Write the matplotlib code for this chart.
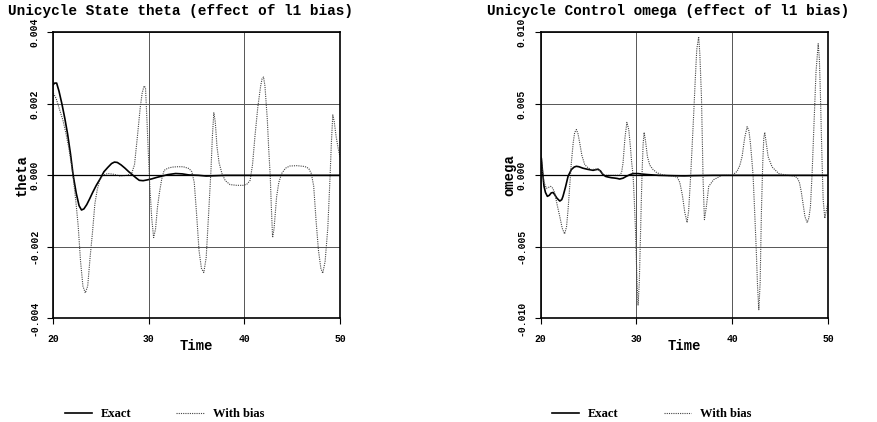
import numpy as np
import matplotlib.pyplot as plt

# Datos - theta (Unicycle State)
t_theta_exact = [20.0, 20.15, 20.35, 20.6, 20.9, 21.2, 21.5, 21.8, 22.08, 22.4, 22.7, 22.95, 23.2,
                 23.5, 23.8, 24.1, 24.5, 24.9, 25.3, 25.7, 26.1, 26.4, 26.7, 27.1, 27.5, 27.9,
                 28.3, 28.7, 29.0, 29.4, 29.8, 30.3, 30.8, 31.4, 32.0, 32.8, 33.5, 34.2, 35.2,
                 36.0, 37.0, 38.0, 40.0, 45.0, 50.0]
theta_exact = [0.00254, 0.00258, 0.00258, 0.00235, 0.0020, 0.0016, 0.00115, 0.0006, 0.0, -0.0005,
               -0.00085, -0.00097, -0.00094, -0.00082, -0.00066, -0.00049, -0.00028, -0.0001,
               0.0001, 0.00022, 0.00033, 0.00037, 0.00036, 0.00029, 0.0002, 0.0001, 0.00001,
               -0.00008, -0.00014, -0.00015, -0.00013, -0.0001, -0.00006, -0.00002, 0.00002,
               0.00005, 0.00004, 0.00001, 0.0, -0.00002, -0.00001, 0.0, 0.0, 0.0, 0.0]

t_theta_bias = [20.0, 20.3, 20.7, 21.0, 21.3, 21.6, 21.9, 22.1, 22.35, 22.6, 22.85, 23.1, 23.35,
                23.6, 23.85, 24.1, 24.35, 24.6, 24.85, 25.2, 25.7, 26.3, 27.0, 27.7, 28.2, 28.5,
                28.8, 29.1, 29.3, 29.5, 29.65, 29.8, 29.95, 30.1, 30.3, 30.5, 30.7, 30.9, 31.1,
                31.35, 31.6, 32.0, 32.45, 33.0, 33.6, 34.2, 34.5, 34.75, 35.0, 35.25, 35.5,
                35.75, 36.0, 36.27, 36.5, 36.65, 36.8, 36.95, 37.13, 37.35, 37.65, 38.0, 38.5,
                39.2, 39.9, 40.3, 40.6, 40.85, 41.1, 41.4, 41.7, 41.85, 42.0, 42.15, 42.4,
                42.55, 42.7, 42.82, 42.95, 43.1, 43.37, 43.6, 43.9, 44.3, 44.75, 45.5, 46.2,
                46.5, 46.75, 47.0, 47.25, 47.5, 47.75, 48.0, 48.2, 48.45, 48.73, 48.97, 49.1,
                49.25, 49.4, 49.6, 49.85, 50.0]
theta_bias = [0.0023, 0.00215, 0.0018, 0.00155, 0.0012, 0.0008, 0.0003, -0.0001, -0.0007, -0.0014,
              -0.0024, -0.0031, -0.00329, -0.0031, -0.0023, -0.0016, -0.0008, -0.0004, -0.00014,
              0.0, 0.00005, 0.00003, -0.00002, 0.0, 0.00005, 0.0003, 0.00108, 0.0019, 0.0023,
              0.0025, 0.00245, 0.00155, 0.0006, -0.0003, -0.0012, -0.00174, -0.0015, -0.0009,
              -0.0005, -0.0001, 0.00014, 0.0002, 0.00023, 0.00024, 0.00024, 0.00019, 0.0001,
              -0.0002, -0.0011, -0.0021, -0.0026, -0.00272, -0.0023, -0.001, 0.00014, 0.0011,
              0.00175, 0.0015, 0.0008, 0.00035, 0.00005, -0.00015, -0.00026, -0.00028, -0.00028,
              -0.00024, -0.00014, 0.0003, 0.00108, 0.0019, 0.0025, 0.0027, 0.00275, 0.0025,
              0.00155, 0.0007, 0.0, -0.0009, -0.00174, -0.0015, -0.0006, -0.0002, 0.00005,
              0.0002, 0.00026, 0.00027, 0.00025, 0.00023, 0.00018, 0.00005, -0.0003, -0.00127,
              -0.0021, -0.0026, -0.00274, -0.0024, -0.00146, 0.0, 0.0009, 0.00169, 0.0015,
              0.00108, 0.0007, 0.00052]

# Datos - omega (Unicycle Control)
t_omega_exact = [20.0, 20.07, 20.2, 20.35, 20.5, 20.7, 20.9, 21.1, 21.3, 21.46, 21.7, 22.0, 22.2,
                 22.33, 22.6, 22.86, 23.2, 23.5, 23.73, 24.0, 24.4, 24.9, 25.47, 25.8, 26.0, 26.25,
                 26.5, 26.8, 27.04, 27.4, 27.7, 28.0, 28.25, 28.6, 28.95, 29.3, 29.65, 30.17,
                 30.7, 31.2, 32.3, 34.0, 35.0, 36.0, 38.0, 40.0, 45.0, 50.0]
omega_exact = [0.0012, 0.0012, 0.0002, -0.00077, -0.0012, -0.00147, -0.0014, -0.00123, -0.0012,
               -0.00135, -0.0016, -0.0018, -0.0017, -0.00147, -0.0008, -0.00007, 0.0004, 0.00058,
               0.00063, 0.0006, 0.0005, 0.00042, 0.00035, 0.0004, 0.00042, 0.0003, 0.00005,
               -0.00008, -0.00012, -0.00017, -0.00019, -0.00022, -0.00026, -0.0002, -0.00007,
               0.00004, 0.00012, 0.00012, 0.00008, 0.00005, 0.0, -0.00003, -0.00004, -0.00002,
               0.0, 0.0, 0.0, 0.0]

t_omega_bias = [20.0, 20.07, 20.2, 20.35, 20.6, 20.8, 21.05, 21.25, 21.46, 21.7, 22.0, 22.25,
                22.5, 22.7, 22.86, 23.05, 23.2, 23.4, 23.55, 23.73, 23.9, 24.08, 24.3, 24.6,
                25.0, 25.3, 25.6, 26.0, 26.35, 26.7, 27.5, 28.25, 28.45, 28.6, 28.8, 29.0, 29.2,
                29.37, 29.5, 29.65, 29.78, 29.9, 30.05, 30.17, 30.3, 30.42, 30.52, 30.6, 30.7,
                30.8, 30.95, 31.15, 31.4, 31.74, 32.1, 32.6, 33.3, 34.0, 34.3, 34.53, 34.8,
                35.05, 35.29, 35.45, 35.64, 35.8, 35.98, 36.15, 36.3, 36.5, 36.62, 36.79, 36.88,
                36.96, 37.1, 37.3, 37.55, 38.07, 38.94, 40.0, 40.51, 40.8, 41.03, 41.3, 41.56,
                41.75, 41.9, 42.05, 42.18, 42.35, 42.5, 42.65, 42.78, 42.92, 43.05, 43.19, 43.3,
                43.4, 43.55, 43.75, 44.17, 44.87, 45.8, 46.6, 46.85, 47.02, 47.2, 47.38, 47.6,
                47.83, 48.0, 48.17, 48.35, 48.52, 48.75, 48.98, 49.1, 49.22, 49.3, 49.39, 49.5,
                49.67, 49.85, 50.0]
omega_bias = [0.0012, 0.0012, 0.0003, -0.0005, -0.0009, -0.00085, -0.00077, -0.0009, -0.0012,
              -0.002, -0.0029, -0.0037, -0.0041, -0.0036, -0.0024, -0.0006, 0.00086, 0.0023,
              0.003, 0.0032, 0.0029, 0.00226, 0.0014, 0.00074, 0.0005, 0.0004, 0.00042, 0.00044,
              0.0002, 0.0, 0.0, 0.0, 0.0002, 0.00086, 0.0026, 0.0037, 0.0032, 0.002, 0.0009,
              0.0, -0.0018, -0.0038, -0.0072, -0.0091, -0.0075, -0.0043, -0.0015, 0.0004,
              0.0022, 0.003, 0.0024, 0.0013, 0.0007, 0.0004, 0.0002, 0.00005, -0.00003,
              -0.00007, -0.00018, -0.0005, -0.0014, -0.0026, -0.0033, -0.0025, -0.0003, 0.0018,
              0.0043, 0.0068, 0.0088, 0.0097, 0.0085, 0.0055, 0.0025, -0.0003, -0.0031,
              -0.0022, -0.00077, -0.0003, 0.0, 0.0, 0.00028, 0.0007, 0.0013, 0.0026, 0.0034,
              0.0031, 0.00226, 0.0011, 0.0, -0.0026, -0.005, -0.0078, -0.0094, -0.0075, -0.0026,
              0.00086, 0.0026, 0.003, 0.0023, 0.0013, 0.00058, 0.00012, 0.0, -0.00007,
              -0.00025, -0.0005, -0.0011, -0.0019, -0.0029, -0.0033, -0.003, -0.0022, 0.0002,
              0.0032, 0.0072, 0.0092, 0.0082, 0.0055, 0.0032, 0.00086, -0.0017, -0.003,
              -0.0024, -0.0019]

titles = ['Unicycle State theta (effect of l1 bias)',
          'Unicycle Control omega (effect of l1 bias)']
ylabels = ['theta', 'omega']
yticks_list = [[-0.004, -0.002, 0.0, 0.002, 0.004], [-0.010, -0.005, 0.0, 0.005, 0.010]]
xticks = [20, 30, 40, 50]

mono = 'Liberation Mono'

fig = plt.figure(figsize=(8.78, 4.22), dpi=100)
ax1 = fig.add_axes([0.0607, 0.2457, 0.3265, 0.6777])
ax2 = fig.add_axes([0.6158, 0.2457, 0.3272, 0.6777])

series = [(t_theta_exact, theta_exact, t_theta_bias, theta_bias),
          (t_omega_exact, omega_exact, t_omega_bias, omega_bias)]
title_x = [8 / 878, 487 / 878]

for i, ax in enumerate([ax1, ax2]):
    te, ye, tb, yb = series[i]
    yt = yticks_list[i]
    ax.plot(te, ye, color='black', lw=1.2, label='Exact')
    ax.plot(tb, yb, color='#444444', lw=0.8, ls=(0, (1, 1)), label='With bias')
    ax.set_xlim(20, 50)
    ax.set_ylim(yt[0], yt[-1])
    ax.set_xticks(xticks)
    ax.set_yticks(yt)
    ax.set_xticklabels([str(x) for x in xticks], fontfamily=mono, fontweight='bold', fontsize=7)
    ax.set_yticklabels(['%.3f' % v for v in yt], fontfamily=mono, fontweight='bold', fontsize=7,
                       rotation=90, va='center')
    ax.tick_params(axis='y', direction='out', length=4, width=0.8, pad=6)
    ax.tick_params(axis='x', direction='out', length=4, width=0.8, pad=7)
    ax.grid(True, color='#555555', lw=0.7)
    ax.axhline(0, color='black', lw=0.9)
    for s in ax.spines.values():
        s.set_linewidth(1.2)
    ax.set_xlabel('Time', fontfamily=mono, fontweight='bold', fontsize=10, labelpad=-3.5)
    ax.set_ylabel(ylabels[i], fontfamily=mono, fontweight='bold', fontsize=10, va='center')
    ax.yaxis.set_label_coords(-0.108, 0.5)
    fig.text(title_x[i], 0.99, titles[i], fontfamily=mono, fontweight='bold', fontsize=10.4,
             ha='left', va='top')
    ax.legend(loc='upper left', bbox_to_anchor=(0.0, -0.275), ncol=2, frameon=False,
              handlelength=2.2, handletextpad=0.7, columnspacing=3.6,
              prop={'family': 'Liberation Serif', 'weight': 'bold', 'size': 9})

plt.savefig('out.png', dpi=100)
